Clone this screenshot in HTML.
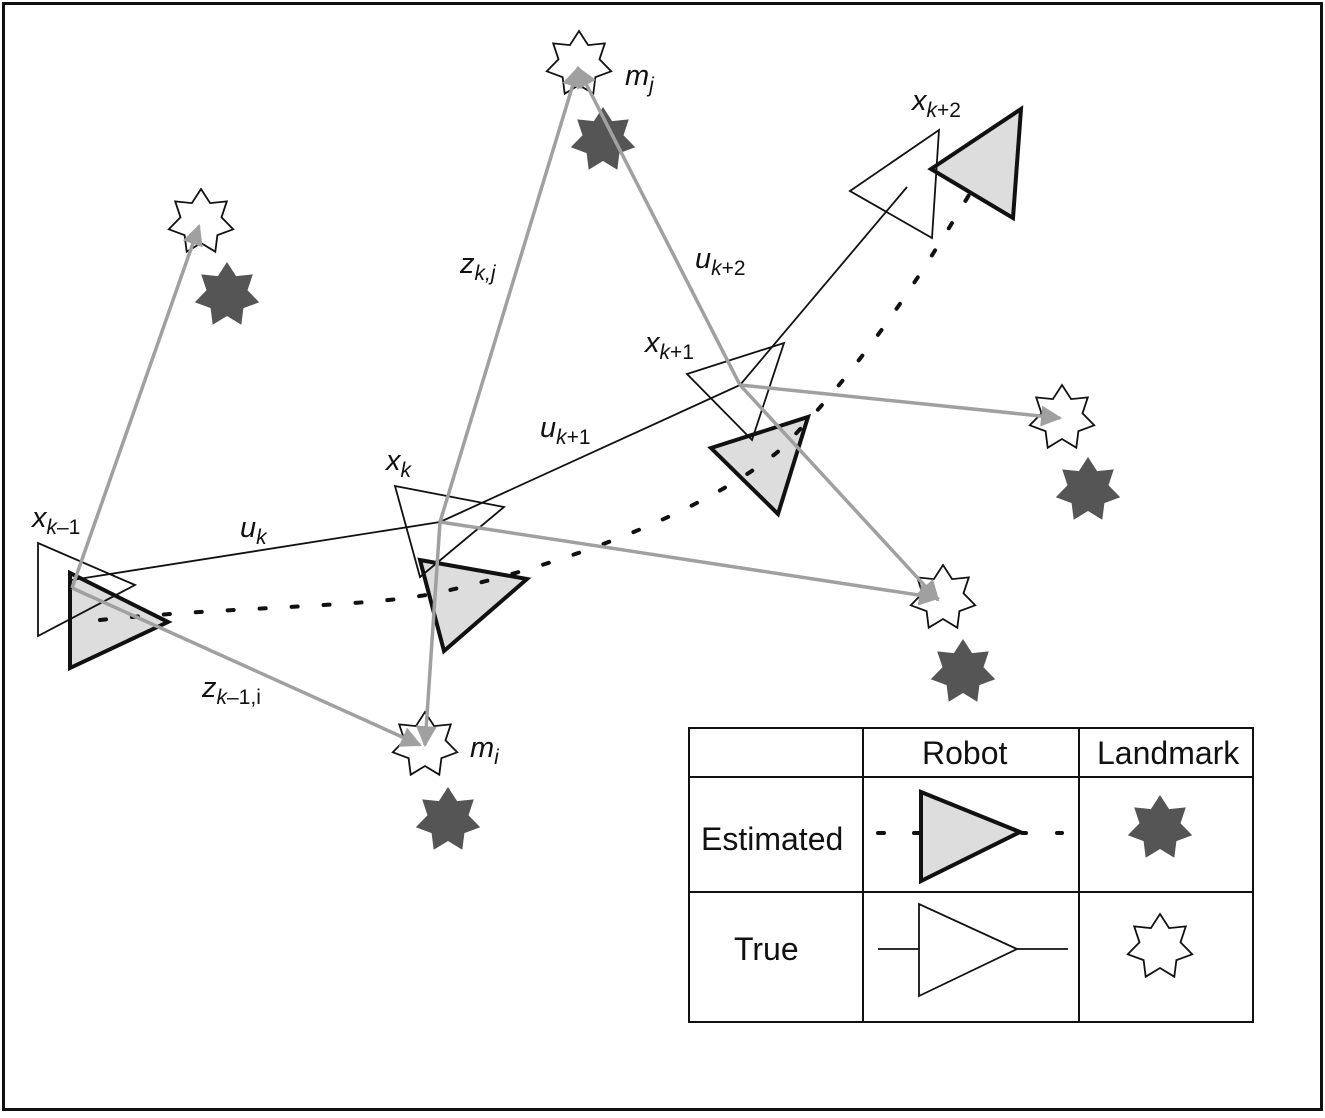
<!DOCTYPE html>
<html><head><meta charset="utf-8"><style>
html,body{margin:0;padding:0;background:#fff;}
svg{display:block;}
text{font-family:"Liberation Sans",Arial,sans-serif;fill:#111;}
.it{font-style:italic;}
</style></head><body>
<svg id="s" width="1325" height="1118" viewBox="0 0 1325 1118" xmlns="http://www.w3.org/2000/svg">
<defs>
<marker id="ar" viewBox="0 0 10 10" refX="9" refY="5" markerWidth="6" markerHeight="6" markerUnits="strokeWidth" orient="auto"><path d="M0,0 L10,5 L0,10 z" fill="#a0a0a0"/></marker>
</defs>
<rect x="3.5" y="3.5" width="1318" height="1106" fill="#fff" stroke="#111" stroke-width="3"/>
<g id="stars"></g>
<!-- estimated triangles -->
<g fill="#dcdddc" stroke="#111" stroke-width="4" stroke-linejoin="miter">
<polygon points="70,573 70,668 168,622"/>
<polygon points="420,560 444,651 527,579"/>
<polygon points="711,448 808,417 778,514"/>
<polygon points="931,169 1021,109 1013,218"/>
</g>
<!-- dotted estimated path -->
<path d="M100,620 C250,605 380,608 450,590 C600,555 720,500 780,450 C870,360 930,260 975,185" fill="none" stroke="#111" stroke-width="4" stroke-dasharray="6,26" stroke-linecap="round"/>
<!-- true triangles -->
<g fill="none" stroke="#111" stroke-width="1.8">
<polygon points="38,543 38,636 135,585"/>
<polygon points="395,486 504,507 420,577"/>
<polygon points="687,374 784,343 752,440"/>
<polygon points="850,191 939,130 932,238"/>
<polyline points="72,580 440,522 740,385 907,187"/>
</g>
<!-- gray measurement lines -->
<g stroke="#a0a0a0" stroke-width="3.5" fill="none">
<line x1="72" y1="588" x2="199" y2="226" marker-end="url(#ar)"/>
<line x1="72" y1="588" x2="420" y2="745" marker-end="url(#ar)"/>
<line x1="440" y1="522" x2="425" y2="745" marker-end="url(#ar)"/>
<line x1="440" y1="522" x2="578" y2="68" marker-end="url(#ar)"/>
<line x1="440" y1="522" x2="938" y2="598" marker-end="url(#ar)"/>
<line x1="740" y1="385" x2="578" y2="68" marker-end="url(#ar)"/>
<line x1="740" y1="385" x2="938" y2="600" marker-end="url(#ar)"/>
<line x1="740" y1="385" x2="1060" y2="418" marker-end="url(#ar)"/>
</g>
<!-- labels -->
<g font-size="29">
<text x="32" y="527" class="it">x<tspan font-size="21" dy="7">k</tspan><tspan font-size="21" font-style="normal">–1</tspan></text>
<text x="240" y="537" class="it">u<tspan font-size="21" dy="7">k</tspan></text>
<text x="386" y="470" class="it">x<tspan font-size="21" dy="7">k</tspan></text>
<text x="540" y="437" class="it">u<tspan font-size="21" dy="7">k</tspan><tspan font-size="21" font-style="normal">+1</tspan></text>
<text x="645" y="352" class="it">x<tspan font-size="21" dy="7">k</tspan><tspan font-size="21" font-style="normal">+1</tspan></text>
<text x="695" y="268" class="it">u<tspan font-size="21" dy="7">k</tspan><tspan font-size="21" font-style="normal">+2</tspan></text>
<text x="912" y="110" class="it">x<tspan font-size="21" dy="7">k</tspan><tspan font-size="21" font-style="normal">+2</tspan></text>
<text x="460" y="273" class="it">z<tspan font-size="21" dy="7">k,j</tspan></text>
<text x="202" y="697" class="it">z<tspan font-size="21" dy="7">k</tspan><tspan font-size="21" font-style="normal">–1,i</tspan></text>
<text x="470" y="757" class="it">m<tspan font-size="21" dy="7">i</tspan></text>
<text x="625" y="85" class="it">m<tspan font-size="21" dy="7">j</tspan></text>
</g>
<!-- legend -->
<g stroke="#111" stroke-width="2" fill="none">
<rect x="689" y="728" width="564" height="294"/>
<line x1="863" y1="728" x2="863" y2="1022"/>
<line x1="1079" y1="728" x2="1079" y2="1022"/>
<line x1="689" y1="777" x2="1253" y2="777"/>
<line x1="689" y1="892" x2="1253" y2="892"/>
</g>
<g font-size="32">
<text x="922" y="764">Robot</text>
<text x="1097" y="764">Landmark</text>
<text x="701" y="850">Estimated</text>
<text x="734" y="960">True</text>
</g>
<polygon points="921,792 921,881 1020,832" fill="#dcdddc" stroke="#111" stroke-width="4"/>
<g stroke="#111" stroke-width="4" stroke-linecap="round">
<line x1="878" y1="833" x2="884" y2="833"/><line x1="914" y1="833" x2="920" y2="833"/>
<line x1="1022" y1="833" x2="1026" y2="833"/><line x1="1057" y1="833" x2="1062" y2="833"/>
</g>
<polygon points="919,904 919,996 1017,949" fill="#fff" stroke="#111" stroke-width="1.8"/>
<line x1="878" y1="949" x2="919" y2="949" stroke="#111" stroke-width="1.8"/>
<line x1="1017" y1="949" x2="1068" y2="949" stroke="#111" stroke-width="1.8"/>
</svg>
<script>
function star(cx,cy,R,r,fill,stroke){
 var p=[];for(var i=0;i<14;i++){var a=-Math.PI/2+i*Math.PI/7;var rr=i%2?r:R;p.push((cx+rr*Math.cos(a)).toFixed(1)+","+(cy+rr*Math.sin(a)).toFixed(1));}
 var e=document.createElementNS("http://www.w3.org/2000/svg","polygon");
 e.setAttribute("points",p.join(" "));e.setAttribute("fill",fill);
 if(stroke){e.setAttribute("stroke","#111");e.setAttribute("stroke-width","1.8");}
 return e;}
var g=document.getElementById("stars");
[[201,222],[425,745],[579,64],[1062,418],[943,598],[1160,947]].forEach(function(c){g.appendChild(star(c[0],c[1],33,21,"#fff",1));});
[[227,295],[448,820],[603,140],[1088,490],[963,672],[1160,828]].forEach(function(c){g.appendChild(star(c[0],c[1],33,21,"#555",0));});
</script>
</body></html>
